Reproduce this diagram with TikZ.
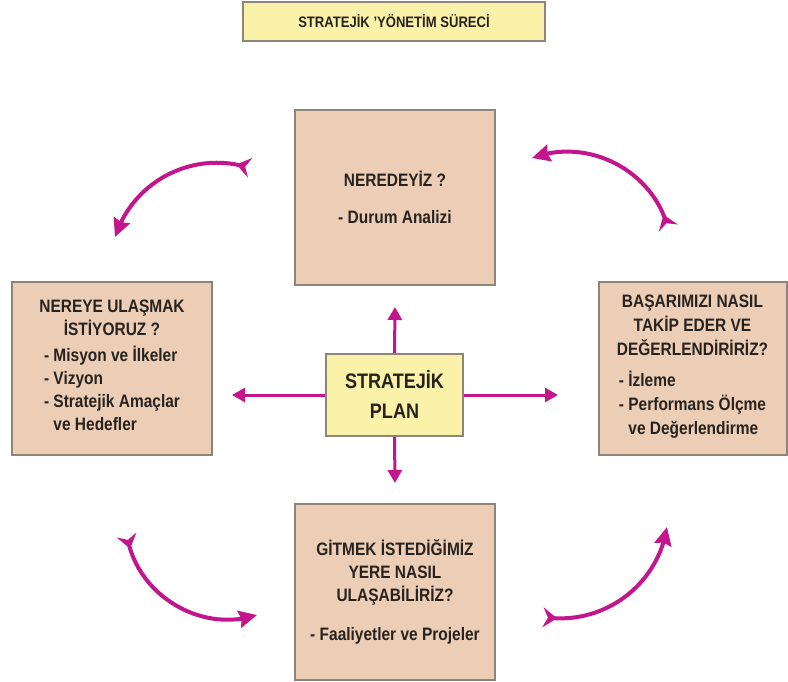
\documentclass[tikz,border=0pt]{standalone}
\usepackage{fontspec}
\setmainfont{Liberation Sans}[FakeStretch=0.86]
\usetikzlibrary{arrows.meta}
\usetikzlibrary{bending}

\definecolor{peach}{RGB}{236,206,183}
\definecolor{boxline}{RGB}{142,132,122}
\definecolor{paleyellow}{RGB}{251,242,170}
\definecolor{arrowpink}{RGB}{196,22,140}
\definecolor{inkgray}{RGB}{40,34,30}

\begin{document}
\begin{tikzpicture}[x=0.5pt,y=-0.5pt,
        stepbox/.style={draw=boxline, line width=1pt, fill=peach, inner sep=0pt,
                        align=center, text=inkgray, font=\fontsize{9}{11.5}\selectfont\bfseries},
        planbox/.style={draw=boxline, line width=1pt, fill=paleyellow, inner sep=0pt,
                        align=center, text=inkgray},
        spoke/.style={draw=arrowpink, line width=1.5pt, -{Triangle[length=6.5pt,width=7pt]}},
        swing/.style={draw=arrowpink, line width=2pt, line cap=round,
                      {Stealth[reversed,length=7pt,width=10pt,inset=2.5pt,flex]}-{Stealth[length=9pt,width=8.5pt,inset=1pt,flex]}}]
    \useasboundingbox (0,0) rectangle (788,681);

    % baslik
    \node[planbox, minimum width=151pt, minimum height=19.5pt,
          font=\fontsize{7.6}{9}\selectfont\bfseries] (title) at (394,21.5)
          {STRATEJİK 'YÖNETİM SÜRECİ};

    % dort kutu
    \node[stepbox, minimum width=100pt, minimum height=87.5pt] (where) at (395,197.5)
          {NEREDEYİZ ?\\[7pt]- Durum Analizi};
    \node[stepbox, minimum width=100pt, minimum height=86.5pt] (goal) at (112,368.5)
          {NEREYE ULAŞMAK\\İSTİYORUZ ?\\[4pt]%
           \begin{tabular}{@{}l@{}}- Misyon ve İlkeler\\- Vizyon\\- Stratejik Amaçlar\\\hphantom{-\ }ve Hedefler\end{tabular}};
    \node[stepbox, minimum width=94pt, minimum height=86.5pt,
          font=\fontsize{9}{12}\selectfont\bfseries] (track) at (692.5,368.5)
          {BAŞARIMIZI NASIL\\TAKİP EDER VE\\DEĞERLENDİRİRİZ?\\[6pt]%
           \begin{tabular}{@{}l@{}}- İzleme\\- Performans Ölçme\\\hphantom{-\ }ve Değerlendirme\end{tabular}};
    \node[stepbox, minimum width=100pt, minimum height=88pt] (how) at (395,592)
          {GİTMEK İSTEDİĞİMİZ\\YERE NASIL\\ULAŞABİLİRİZ?\\[8pt]- Faaliyetler ve Projeler};

    % orta kutu
    \node[planbox, minimum width=68.5pt, minimum height=41pt,
          font=\fontsize{10.5}{15}\selectfont\bfseries] (plan) at (394.5,395)
          {STRATEJİK\\PLAN};

    \coordinate (upTip) at (395,307);
    \coordinate (downTip) at (395,483);
    \coordinate (leftTip) at (232,395);
    \coordinate (rightTip) at (558,395);
    \draw[spoke] (plan.north) -- (upTip);
    \draw[spoke] (plan.south) -- (downTip);
    \draw[spoke] (plan.west) -- (leftTip);
    \draw[spoke] (plan.east) -- (rightTip);

    % kavisli oklar
    \coordinate (tlTail) at (250,168);
    \coordinate (tlHead) at (115,237);
    \coordinate (trTail) at (668,228);
    \coordinate (trHead) at (532,158);
    \coordinate (blTail) at (127,535);
    \coordinate (blHead) at (257,615);
    \coordinate (brTail) at (543,617);
    \coordinate (brHead) at (667,527);
    \draw[swing] (tlTail) to[bend right=45] (tlHead);
    \draw[swing] (trTail) to[bend right=48] (trHead);
    \draw[swing] (blTail) to[bend right=50] (blHead);
    \draw[swing] (brTail) to[bend right=45] (brHead);
\end{tikzpicture}
\end{document}
